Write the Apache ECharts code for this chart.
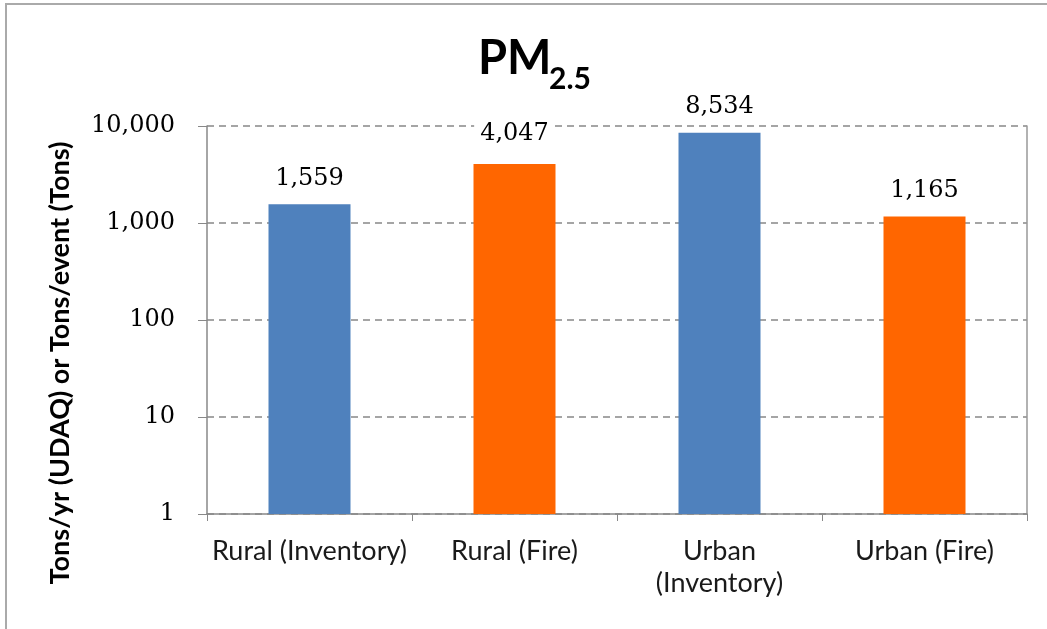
<!DOCTYPE html>
<html>
<head>
<meta charset="utf-8">
<script src="https://cdn.jsdelivr.net/npm/echarts@6/dist/echarts.min.js"></script>
<style>
  html, body { margin: 0; padding: 0; background: #fff; }
  #main { width: 1047px; height: 629px; }
</style>
</head>
<body>
<div id="main"></div>
<script>
// categories and values
var categories = ['Rural (Inventory)', 'Rural (Fire)', 'Urban\n(Inventory)', 'Urban (Fire)'];
var values = [1559, 4047, 8534, 1165];
var barColors = ['#4F81BD', '#FF6600', '#4F81BD', '#FF6600'];
var labelGaps = [12, 16, 12, 12];
var yTicks = [1, 10, 100, 1000, 10000];

var chart = echarts.init(document.getElementById('main'));

function fmt(v) {
  return Math.round(v).toString().replace(/\B(?=(\d{3})+(?!\d))/g, ',');
}

chart.setOption({
  backgroundColor: '#fff',
  animation: false,
  // PM with a subscript 2.5
  title: [{
    text: 'PM',
    left: 473,
    top: 30,
    textStyle: { fontFamily: 'Lato', fontWeight: 'bold', fontSize: 47, color: '#000' }
  }, {
    text: '2.5',
    left: 544,
    top: 59,
    textStyle: { fontFamily: 'Lato', fontWeight: 'bold', fontSize: 30, color: '#000' }
  }],
  grid: { left: 207, right: 20, top: 126, bottom: 115, containLabel: false },
  xAxis: {
    type: 'category',
    data: categories,
    axisLine: { lineStyle: { color: '#888', width: 1.5 } },
    axisTick: { show: true, length: 7, interval: 0, lineStyle: { color: '#888' } },
    axisLabel: {
      interval: 0,
      fontFamily: 'Lato', fontSize: 27, color: '#1a1a1a', margin: 21, lineHeight: 32
    }
  },
  yAxis: [{
    type: 'log',
    logBase: 10,
    min: yTicks[0],
    max: yTicks[yTicks.length - 1],
    axisLine: { show: true, lineStyle: { color: '#888', width: 1.5 } },
    axisTick: { show: true, length: 9, lineStyle: { color: '#888' } },
    axisLabel: {
      fontFamily: 'DejaVu Serif', fontSize: 24, color: '#000', margin: 32,
      formatter: function (v) { return fmt(v); }
    },
    splitLine: { show: true, lineStyle: { color: '#888', type: [7, 5], width: 1.5 } }
  }, {
    type: 'log',
    logBase: 10,
    min: yTicks[0],
    max: yTicks[yTicks.length - 1],
    position: 'right',
    axisLine: { show: true, lineStyle: { color: '#999', width: 1.5 } },
    axisTick: { show: false },
    axisLabel: { show: false },
    splitLine: { show: false }
  }],
  graphic: [{
    type: 'rect',
    shape: { x: 6, y: 4, width: 1200, height: 800 },
    style: { fill: 'none', stroke: '#aaa', lineWidth: 2 },
    silent: true
  }, {
    type: 'text',
    x: 60,
    y: 363,
    rotation: Math.PI / 2,
    style: {
      text: 'Tons/yr (UDAQ) or Tons/event (Tons)',
      fontFamily: 'Lato', fontWeight: 'bold', fontSize: 27, fill: '#000',
      align: 'center', verticalAlign: 'middle'
    },
    silent: true
  }],
  series: [{
    type: 'bar',
    barWidth: '40%',
    data: values.map(function (v, i) {
      return { value: v, itemStyle: { color: barColors[i] }, label: { distance: labelGaps[i] } };
    }),
    label: {
      show: true,
      position: 'top',
      fontFamily: 'DejaVu Serif',
      fontSize: 24,
      color: '#000',
      backgroundColor: '#fff',
      padding: [2, 6],
      formatter: function (p) { return fmt(p.value); }
    }
  }]
});
</script>
</body>
</html>
